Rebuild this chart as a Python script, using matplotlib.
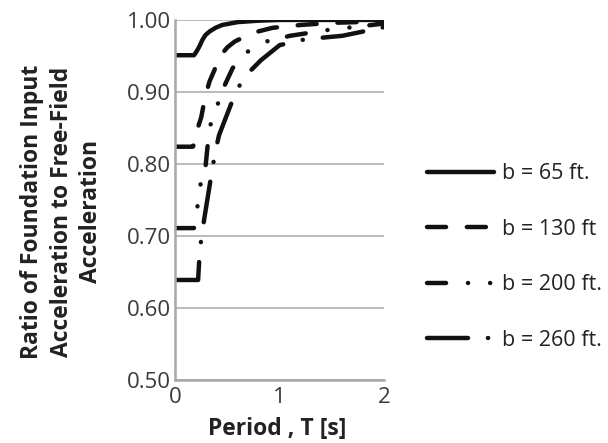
import matplotlib
matplotlib.use("Agg")
import matplotlib.pyplot as plt

plt.rcParams['font.family'] = ['Open Sans', 'DejaVu Sans']
plt.rcParams['lines.scale_dashes'] = False

# ---- data ----
labels = ["b = 65 ft.", "b = 130 ft", "b = 200 ft.", "b = 260 ft."]

T_65 = [0, 0.18, 0.20, 0.23, 0.26, 0.29, 0.33, 0.385, 0.45, 0.60, 0.80, 1.0, 2.0]
R_65 = [0.951, 0.951, 0.955, 0.9625, 0.972, 0.979, 0.984, 0.989, 0.993, 0.997, 0.999, 1.0, 1.0]

T_130 = [0, 0.17, 0.19, 0.21, 0.25, 0.29, 0.33, 0.375, 0.43, 0.50, 0.57, 0.74, 0.93, 1.2, 1.5, 2.0]
R_130 = [0.824, 0.824, 0.83, 0.847, 0.865, 0.895, 0.915, 0.93, 0.95, 0.962, 0.97, 0.982, 0.989, 0.993, 0.996, 0.998]

T_200 = [0, 0.18, 0.20, 0.21, 0.24, 0.29, 0.31, 0.34, 0.40, 0.47, 0.55, 0.67, 0.87, 1.1, 1.46, 1.7, 2.0]
R_200 = [0.711, 0.711, 0.72, 0.737, 0.77, 0.795, 0.824, 0.855, 0.88, 0.908, 0.933, 0.954, 0.97, 0.978, 0.986, 0.99, 0.995]

T_260 = [0, 0.22, 0.23, 0.25, 0.28, 0.33, 0.38, 0.42, 0.50, 0.58, 0.67, 0.82, 1.0, 1.2, 1.38, 1.6, 1.8, 2.0]
R_260 = [0.639, 0.639, 0.665, 0.697, 0.725, 0.77, 0.814, 0.84, 0.87, 0.90, 0.922, 0.944, 0.965, 0.972, 0.975, 0.978, 0.984, 0.99]

x_ticks = [0, 1, 2]
y_ticks = [0.50, 0.60, 0.70, 0.80, 0.90, 1.00]

series = [(T_65, R_65), (T_130, R_130), (T_200, R_200), (T_260, R_260)]
styles = [
    '-',
    (0, (13.7, 15.0)),
    (0, (13.7, 15.8, 0.1, 15.8, 0.1, 14.4)),
    (0, (29.5, 14.4, 0.1, 14.4)),
]

fig = plt.figure(figsize=(6.08, 4.43), dpi=100)
ax = fig.add_axes([0.288, 0.142, 0.344, 0.813])

for (t, r), ls, lab in zip(series, styles, labels):
    ax.plot(t, r, color='#111111', lw=3.2, linestyle=ls,
            dash_capstyle='round', solid_capstyle='round', label=lab)

ax.set_xlim(0, 2)
ax.set_ylim(0.5, 1.0)
ax.set_xticks(x_ticks)
ax.set_xticklabels([str(v) for v in x_ticks])
ax.set_yticks(y_ticks)
ax.set_yticklabels([f"{v:.2f}" for v in y_ticks])
ax.tick_params(length=0, labelsize=16, colors='#3a3a3a', pad=3)
ax.tick_params(axis='x', pad=5)

ax.yaxis.grid(True, color='#b5b5b5', lw=1.3)
ax.set_axisbelow(True)
for s in ['top', 'right']:
    ax.spines[s].set_visible(False)
for s in ['left', 'bottom']:
    ax.spines[s].set_color('#a8a8a8')
    ax.spines[s].set_linewidth(1.8)

ax.set_xlabel("Period , T [s]", fontsize=16.5, fontweight='bold', color='#222222')
ax.xaxis.set_label_coords(0.49, -0.102)
ax.set_ylabel("Ratio of Foundation Input\nAcceleration to Free-Field\nAcceleration",
              fontsize=16.5, fontweight='bold', color='#222222', linespacing=1.3)
ax.yaxis.set_label_coords(-0.345, 0.467)

leg = ax.legend(loc='center left', bbox_to_anchor=(0.685, 0.420), bbox_transform=fig.transFigure,
                frameon=False, fontsize=15.5, handlelength=3.1, handletextpad=0.38,
                labelspacing=1.6, borderpad=0)
for txt in leg.get_texts():
    txt.set_color('#222222')

fig.savefig("out.png", dpi=100)
